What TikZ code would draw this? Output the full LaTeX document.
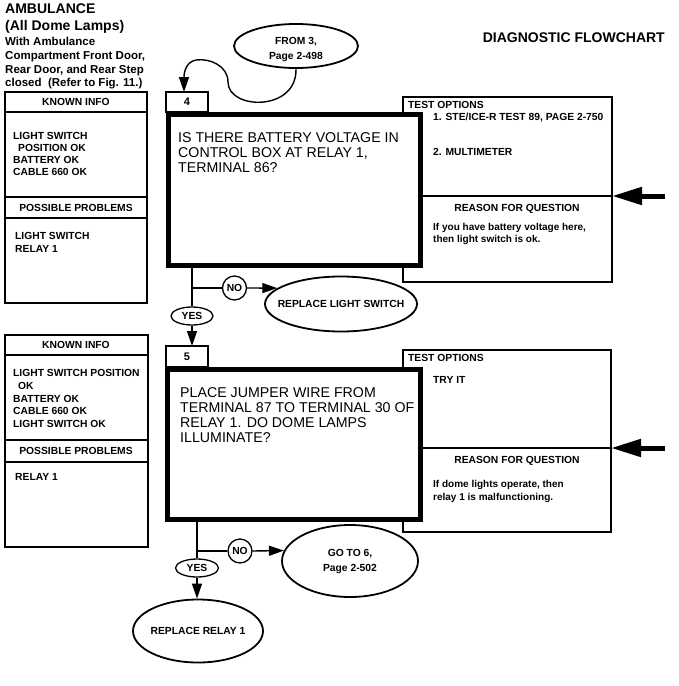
\documentclass[tikz,border=0pt]{standalone}
\usepackage{fontspec}
\setmainfont{Liberation Sans}
\usetikzlibrary{shapes.geometric, arrows.meta, calc}
\begin{document}
\begin{tikzpicture}[x=1pt,y=-1pt,
  lw/.style={line width=1.3pt},
  panel/.style={draw, line width=1.3pt, fill=white, inner sep=0pt, outer sep=0pt, anchor=north west},
  qbox/.style={draw, line width=5pt, fill=white, inner sep=0pt, anchor=north west},
  tabbox/.style={draw, line width=1.3pt, fill=white, inner sep=0pt, outer sep=0pt, anchor=north west, minimum width=42pt, font=\bfseries\fontsize{11}{11}\selectfont},
  ell/.style={draw, ellipse, line width=1.8pt, fill=white, inner sep=0pt},
  yn/.style={draw, ellipse, line width=1.3pt, fill=white, inner sep=0pt},
  sm/.style={font=\bfseries\fontsize{10.3}{12}\selectfont, inner sep=0pt},
  txt/.style={font=\bfseries\fontsize{10}{12}\selectfont, inner sep=0pt, anchor=north west, align=left},
  qtxt/.style={font=\fontsize{14.2}{15}\selectfont, inner sep=0pt, anchor=north west, align=left},
  flow/.style={line width=1.4pt, -{Triangle[length=15pt,width=10pt]}},
  heavy/.style={line width=5pt, -{Triangle[length=30pt,width=17pt]}},
]
\fill[white] (0,0) rectangle (678,686);
\useasboundingbox (0,0) rectangle (678,686);

% ---------- titles ----------
\node[anchor=north west, inner sep=0pt, align=left, font=\bfseries\fontsize{14}{16.5}\selectfont] (title) at (5,4) {AMBULANCE\\(All Dome Lamps)};
\node[anchor=north west, inner sep=0pt, align=left, font=\bfseries\fontsize{11.5}{13.8}\selectfont] (subtitle) at (5,37) {With Ambulance\\Compartment Front Door,\\Rear Door, and Rear Step\\closed\ \ (Refer to Fig. 11.)};
\node[anchor=east, inner sep=0pt, font=\bfseries\fontsize{14}{14}\selectfont] (dfc) at (665,38) {DIAGNOSTIC FLOWCHART};

% ---------- left panel 4 ----------
\draw[lw] (5,92) rectangle (147,303);
\draw[lw] (5,112) -- (147,112);
\draw[lw] (5,197) -- (147,197);
\draw[lw] (5,218) -- (147,218);
\node[sm] (ki4h) at (76,102) {KNOWN INFO};
\node[txt, font=\bfseries\fontsize{10.3}{12}\selectfont] (ki4t) at (13,132.3) {LIGHT SWITCH\\\hspace*{5pt}POSITION OK\\BATTERY OK\\CABLE 660 OK};
\node[sm] (pp4h) at (76,207.5) {POSSIBLE PROBLEMS};
\node[txt, font=\bfseries\fontsize{10.3}{12.5}\selectfont] (pp4t) at (15,232.3) {LIGHT SWITCH\\RELAY 1};

% ---------- left panel 5 ----------
\draw[lw] (5,335) rectangle (148,547);
\draw[lw] (5,355) -- (148,355);
\draw[lw] (5,440) -- (148,440);
\draw[lw] (5,462) -- (148,462);
\node[sm] (ki5h) at (76,345) {KNOWN INFO};
\node[txt, font=\bfseries\fontsize{10.3}{12.7}\selectfont] (ki5t) at (13,369.3) {LIGHT SWITCH POSITION\\\hspace*{5pt}OK\\BATTERY OK\\CABLE 660 OK\\LIGHT SWITCH OK};
\node[sm] (pp5h) at (76,451) {POSSIBLE PROBLEMS};
\node[sm, anchor=west] (pp5t) at (15,477) {RELAY 1};

% ---------- test option box 4 ----------
\node[panel, minimum width=209pt, minimum height=185pt] (t4) at (403,97) {};
\draw[lw] (403,196) -- (612,196);
\node[sm, anchor=west] (to4h) at (408,105) {TEST OPTIONS};
\node[sm, anchor=west] (to4a) at (433,118) {1. STE/ICE-R TEST 89, PAGE 2-750};
\node[sm, anchor=west] (to4b) at (433,152) {2. MULTIMETER};
\node[sm] (rq4h) at (517,209) {REASON FOR QUESTION};
\node[txt] (rq4t) at (433,223.2) {If you have battery voltage here,\\then light switch is ok.};
\coordinate (h4) at (665,196);
\draw[heavy] (h4) -- ($(t4.north east)+(0,99)$);

% ---------- question box 4 ----------
\node[qbox, minimum width=252pt, minimum height=151pt] (q4) at (166,112) {};
\node[tabbox, minimum height=20pt] (tab4) at (166,92) {4};
\node[qtxt] (q4t) at (178,132) {IS THERE BATTERY VOLTAGE IN\\CONTROL BOX AT RELAY 1,\\TERMINAL 86?};

% ---------- from ellipse ----------
\node[ell, minimum width=124pt, minimum height=44pt] (fr) at (296,46) {};
\node[sm, align=center, font=\bfseries\fontsize{10.3}{15}\selectfont] (frt) at (296,49.5) {FROM 3,\\Page 2-498};
\draw[flow] (fr.south) .. controls (297,112) and (228,110) .. (228,82)
  .. controls (228,66) and (210,58) .. (196,60)
  .. controls (186,62) and (184,72) .. ($(tab4.north)+(-3,0)$);

% ---------- outcomes 4 ----------
\node[ell, minimum width=152pt, minimum height=55pt] (rls) at (341,304) {};
\node[sm] (rlst) at (rls) {REPLACE LIGHT SWITCH};
\node[yn, circle, minimum size=24pt] (no4) at (234.5,288) {};
\node[sm] (no4t) at (no4) {NO};
\node[yn, minimum width=42pt, minimum height=18pt] (yes4) at (192,316) {};
\node[sm] (yes4t) at (yes4) {YES};
\coordinate (j4) at (192,288);
\draw[lw] (q4.south -| yes4.north) -- (yes4.north);
\draw[lw] (j4) -- (no4.west);
\draw[flow] (no4.east) -- (rls.166);

% ---------- test option box 5 ----------
\node[panel, minimum width=208pt, minimum height=182pt] (t5) at (403,350) {};
\draw[lw] (403,448) -- (611,448);
\node[sm, anchor=west] (to5h) at (408,358) {TEST OPTIONS};
\node[sm, anchor=west] (to5a) at (433,380) {TRY IT};
\node[sm] (rq5h) at (517,461) {REASON FOR QUESTION};
\node[txt, font=\bfseries\fontsize{10}{13}\selectfont] (rq5t) at (433,480.2) {If dome lights operate, then\\relay 1 is malfunctioning.};
\coordinate (h5) at (665,448);
\draw[heavy] (h5) -- ($(t5.north east)+(0,98)$);

% ---------- question box 5 ----------
\node[qbox, minimum width=253pt, minimum height=150pt] (q5) at (165,367) {};
\node[tabbox, minimum height=21pt] (tab5) at (166,346) {5};
\node[qtxt] (q5t) at (180,387) {PLACE JUMPER WIRE FROM\\TERMINAL 87 TO TERMINAL 30 OF\\RELAY 1. DO DOME LAMPS\\ILLUMINATE?};

\draw[flow] (yes4.south) -- (yes4.south |- tab5.north);

% ---------- outcomes 5 ----------
\node[ell, minimum width=136pt, minimum height=72pt] (go6) at (350,561) {};
\node[sm, align=center, font=\bfseries\fontsize{10.3}{15}\selectfont] (go6t) at (go6) {GO TO 6,\\Page 2-502};
\node[yn, circle, minimum size=24pt] (no5) at (240,551) {};
\node[sm] (no5t) at (no5) {NO};
\node[yn, minimum width=43pt, minimum height=18pt] (yes5) at (197,568) {};
\node[sm] (yes5t) at (yes5) {YES};
\node[ell, minimum width=130pt, minimum height=63pt] (rr) at (198,631) {};
\node[sm] (rrt) at (rr) {REPLACE RELAY 1};
\coordinate (j5) at (197,551);
\draw[lw] (q5.south -| yes5.north) -- (yes5.north);
\draw[lw] (j5) -- (no5.west);
\draw[flow] (no5.east) -- (go6.171);
\draw[flow] (yes5.south) -- (yes5.south |- rr.north);
\end{tikzpicture}
\end{document}
